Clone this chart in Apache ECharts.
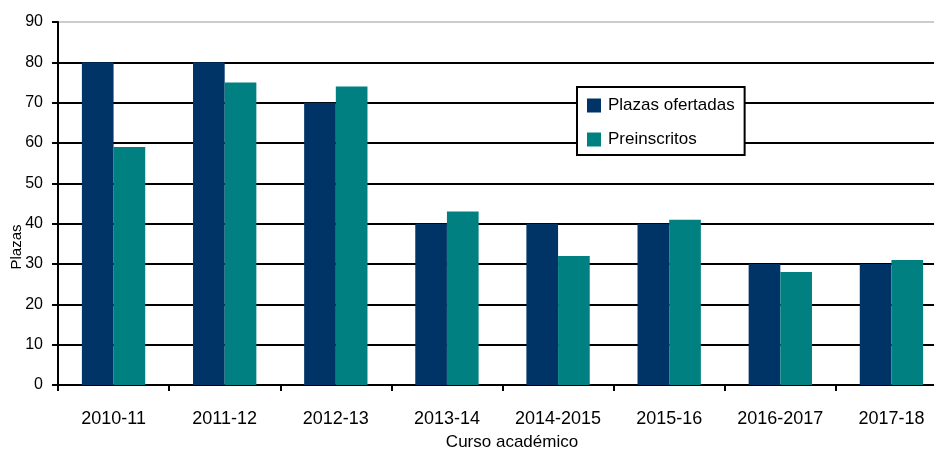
<!DOCTYPE html>
<html>
<head>
<meta charset="utf-8">
<script src="https://cdn.jsdelivr.net/npm/echarts@6/dist/echarts.min.js"></script>
<style>html,body{margin:0;padding:0;background:#fff}#c{width:934px;height:450px}</style>
</head>
<body>
<div id="c"></div>
<script>
const categories = ['2010-11','2011-12','2012-13','2013-14','2014-2015','2015-16','2016-2017','2017-18'];
const plazasOfertadas = [80, 80, 70, 40, 40, 40, 30, 30];
const preinscritos = [59, 75, 74, 43, 32, 41, 28, 31];
const seriesNames = ['Plazas ofertadas', 'Preinscritos'];

const font = '"Liberation Sans", Arial, sans-serif';
const chart = echarts.init(document.getElementById('c'), null, {renderer: 'canvas'});
chart.setOption({
  animation: false,
  backgroundColor: '#fff',
  grid: {left: 58, top: 22, width: 889, height: 363, containLabel: false, outerBoundsMode: 'none'},
  legend: {
    left: 577, top: 87,
    orient: 'vertical',
    padding: [10, 10, 7, 10],
    itemGap: 17,
    itemWidth: 14, itemHeight: 14,
    borderColor: '#000', borderWidth: 2,
    backgroundColor: '#fff',
    icon: 'rect',
    textStyle: {fontFamily: font, fontSize: 17, color: '#000', padding: [0,0,0,2]},
    data: seriesNames
  },
  xAxis: {
    type: 'category',
    data: categories,
    name: 'Curso académico',
    nameLocation: 'middle',
    nameGap: 49,
    nameTextStyle: {fontFamily: font, fontSize: 17, color: '#000', padding: [0,0,0,19]},
    axisLine: {lineStyle: {color: '#000', width: 2}},
    axisTick: {show: true, length: 6, lineStyle: {color: '#000', width: 2}},
    axisLabel: {fontFamily: font, fontSize: 18, color: '#000', margin: 25, interval: 0}
  },
  yAxis: {
    type: 'value',
    min: 0, max: 90, interval: 10,
    axisLine: {show: true, lineStyle: {color: '#000', width: 2}},
    axisTick: {show: true, length: 6, lineStyle: {color: '#000', width: 2}},
    axisLabel: {fontFamily: font, fontSize: 16, color: '#000', margin: 15},
    splitLine: {show: true, lineStyle: {color: ['#000','#000','#000','#000','#000','#000','#000','#000','#000','#ccc'], width: 2}}
  },
  graphic: [{
    type: 'text',
    x: 17, y: 247,
    rotation: Math.PI / 2,
    style: {text: 'Plazas', font: '15px ' + font, fill: '#000', textAlign: 'center', textVerticalAlign: 'middle'}
  }],
  series: [
    {name: seriesNames[0], type: 'bar', data: plazasOfertadas, barGap: '0%', barCategoryGap: '43%', itemStyle: {color: '#003366'}},
    {name: seriesNames[1], type: 'bar', data: preinscritos, barGap: '0%', barCategoryGap: '43%', itemStyle: {color: '#008080'}}
  ]
});
</script>
</body>
</html>
